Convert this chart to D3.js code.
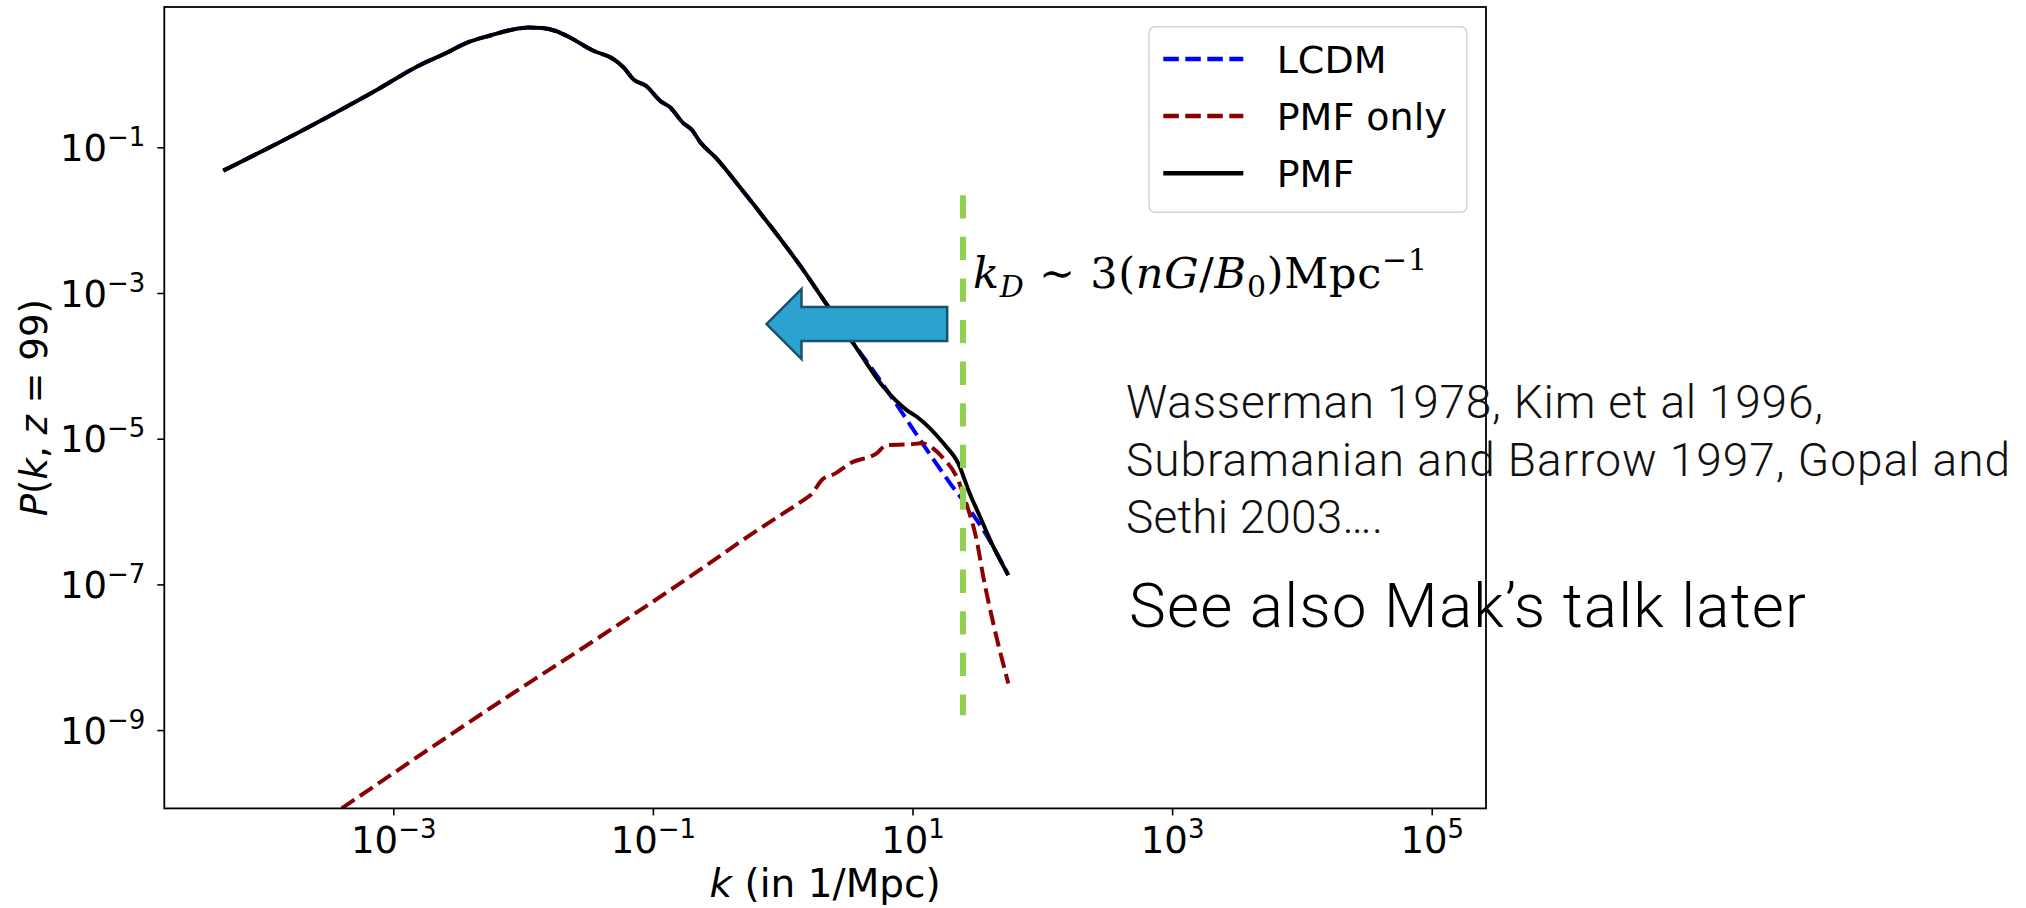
<!DOCTYPE html>
<html>
<head>
<meta charset="utf-8">
<script src="https://cdn.jsdelivr.net/npm/d3@7"></script>
<style>
  html, body { margin: 0; padding: 0; background: #ffffff; }
  svg { display: block; }
</style>
</head>
<body>
<svg id="chart" width="2026" height="908"></svg>
<script>
// Matter power spectrum P(k, z = 99) against wavenumber k (1/Mpc)

// PMF: total spectrum including the primordial magnetic field contribution
const kPMF = [4.90e-5, 1.91e-4, 7.45e-4, 1.61e-3, 2.56e-3, 3.67e-3, 5.66e-3, 8.36e-3,
  1.11e-2, 1.40e-2, 1.79e-2, 2.18e-2, 3.52e-2, 4.81e-2, 5.86e-2, 7.19e-2, 8.85e-2, 0.115,
  0.135, 0.171, 0.200, 0.231, 0.300, 0.499, 0.830, 1.38, 2.24, 3.50, 5.96, 9.02,
  10.8, 17.3, 22.5, 27.7, 33.1, 41.9, 54.7];
const pPMF = [4.78e-2, 0.164, 0.612, 1.35, 1.97, 2.72, 3.45, 4.14,
  4.40, 4.34, 3.95, 3.37, 2.10, 1.68, 1.28, 0.839, 0.695, 0.427,
  0.357, 0.216, 0.173, 0.118, 7.43e-2, 2.45e-2, 7.73e-3, 2.30e-3, 6.49e-4, 2.04e-4, 5.16e-5, 2.47e-5,
  2.00e-5, 8.63e-6, 4.59e-6, 1.74e-6, 8.49e-7, 3.29e-7, 1.34e-7];

// LCDM: standard spectrum without magnetic fields
const kLCDM = [4.90e-5, 1.91e-4, 7.45e-4, 1.61e-3, 2.56e-3, 3.67e-3, 5.66e-3, 8.36e-3,
  1.11e-2, 1.40e-2, 1.79e-2, 2.18e-2, 3.52e-2, 4.81e-2, 5.86e-2, 7.19e-2, 8.85e-2, 0.115,
  0.135, 0.171, 0.200, 0.231, 0.300, 0.499, 0.830, 1.38, 2.24, 3.50,
  4.71, 7.33, 12.9, 19.5, 27.7, 39.5, 54.7];
const pLCDM = [4.78e-2, 0.164, 0.612, 1.35, 1.97, 2.72, 3.45, 4.14,
  4.40, 4.34, 3.95, 3.37, 2.10, 1.68, 1.28, 0.839, 0.695, 0.427,
  0.357, 0.216, 0.173, 0.118, 7.43e-2, 2.45e-2, 7.73e-3, 2.30e-3, 6.49e-4, 2.04e-4,
  9.93e-5, 3.18e-5, 7.02e-6, 2.44e-6, 1.05e-6, 3.94e-7, 1.34e-7];

// PMF only: magnetically induced part alone
const kPMFonly = [4.00e-4, 6.64e-3, 3.91e-2, 0.231, 0.560, 1.01, 1.38, 1.69, 2.00, 2.55,
  3.30, 5.30, 6.32, 9.57, 11.7, 17.3, 21.9, 26.2, 31.2, 35.1, 41.9, 54.7];
const pPMFonly = [8.41e-11, 2.45e-9, 1.91e-8, 1.59e-7, 4.75e-7, 9.44e-7, 1.36e-6, 1.78e-6, 2.71e-6, 3.34e-6,
  4.59e-6, 6.30e-6, 8.19e-6, 8.37e-6, 8.63e-6, 5.37e-6, 2.98e-6, 1.23e-6, 4.06e-7, 1.27e-7, 2.92e-8, 4.37e-9];

const seriesNames = ["LCDM", "PMF only", "PMF"];
const xTickExponents = [-3, -1, 1, 3, 5];
const yTickExponents = [-1, -3, -5, -7, -9];

// damping scale marker and the arrow pointing to larger scales
const kDamping = 24.5;
const dampingSpanP = [2.2e-2, 1.6e-9];
const arrowK = [0.75, 18.5];   // tip, tail
const arrowP = 3.75e-4;

const noteLines = ["Wasserman 1978, Kim et al 1996,",
                   "Subramanian and Barrow 1997, Gopal and",
                   "Sethi 2003…."];
const noteWidths = [697, 884, 257];
const talkNote = "See also Mak\u2019s talk later";

// ---------------------------------------------------------------
const svg = d3.select("#chart");
const W = 2026, H = 908;
svg.append("rect").attr("width", W).attr("height", H).attr("fill", "#ffffff");

const plot = { left: 164.3, right: 1486, top: 7, bottom: 808.4 };

const x = d3.scaleLog()
  .domain([Math.pow(10, -4.764), Math.pow(10, 5.418)])
  .range([plot.left, plot.right]);
const y = d3.scaleLog()
  .domain([Math.pow(10, -10.075), Math.pow(10, 0.926)])
  .range([plot.bottom, plot.top]);

const tickFont = "'DejaVu Sans', sans-serif";

svg.append("defs").append("clipPath").attr("id", "plotClip")
  .append("rect")
  .attr("x", plot.left).attr("y", plot.top)
  .attr("width", plot.right - plot.left).attr("height", plot.bottom - plot.top);

// curves
const line = d3.line().x(d => x(d[0])).y(d => y(d[1])).curve(d3.curveMonotoneX);
const curves = svg.append("g").attr("clip-path", "url(#plotClip)");
const series = [
  { k: kLCDM, p: pLCDM, color: "#0000ff", dash: "15.5,6.5" },
  { k: kPMFonly, p: pPMFonly, color: "#8b0000", dash: "15.5,6.5" },
  { k: kPMF, p: pPMF, color: "#000000", dash: null }
];
series.forEach(s => {
  curves.append("path")
    .datum(s.k.map((k, i) => [k, s.p[i]]))
    .attr("d", line)
    .attr("fill", "none")
    .attr("stroke", s.color)
    .attr("stroke-width", 4)
    .attr("stroke-linejoin", "round")
    .attr("stroke-dasharray", s.dash);
});

// power-of-ten tick labels
function powerLabel(sel, exp) {
  sel.text(null);
  sel.append("tspan").text("10");
  sel.append("tspan")
    .attr("dy", -15)
    .attr("font-size", 26)
    .text(exp < 0 ? "\u2212" + (-exp) : String(exp));
}

const xAxis = d3.axisBottom(x)
  .tickValues(xTickExponents.map(e => Math.pow(10, e)))
  .tickSize(7).tickSizeOuter(0);
const gx = svg.append("g").attr("transform", `translate(0,${plot.bottom})`).call(xAxis);
gx.select(".domain").remove();
gx.selectAll(".tick line").attr("stroke", "#000").attr("stroke-width", 1.6);
gx.selectAll(".tick text")
  .attr("font-family", tickFont).attr("font-size", 37).attr("fill", "#000")
  .attr("y", 45).attr("dy", null)
  .each(function(d, i) { powerLabel(d3.select(this), xTickExponents[i]); });

const yAxis = d3.axisLeft(y)
  .tickValues(yTickExponents.map(e => Math.pow(10, e)))
  .tickSize(7).tickSizeOuter(0);
const gy = svg.append("g").attr("transform", `translate(${plot.left},0)`).call(yAxis);
gy.select(".domain").remove();
gy.selectAll(".tick line").attr("stroke", "#000").attr("stroke-width", 1.6);
gy.selectAll(".tick text")
  .attr("font-family", tickFont).attr("font-size", 37).attr("fill", "#000")
  .attr("x", -19).attr("y", 13).attr("dy", null)
  .each(function(d, i) { powerLabel(d3.select(this), yTickExponents[i]); });

// frame
svg.append("rect")
  .attr("x", plot.left).attr("y", plot.top)
  .attr("width", plot.right - plot.left).attr("height", plot.bottom - plot.top)
  .attr("fill", "none").attr("stroke", "#000").attr("stroke-width", 1.8);

// axis titles
const xTitle = svg.append("text")
  .attr("x", (plot.left + plot.right) / 2).attr("y", 897)
  .attr("text-anchor", "middle")
  .attr("font-family", tickFont).attr("font-size", 39).attr("fill", "#000");
xTitle.append("tspan").attr("font-style", "italic").text("k");
xTitle.append("tspan").text(" (in 1/Mpc)");

const yTitle = svg.append("text")
  .attr("transform", `translate(47,${(plot.top + plot.bottom) / 2}) rotate(-90)`)
  .attr("text-anchor", "middle")
  .attr("font-family", tickFont).attr("font-size", 37).attr("fill", "#000");
yTitle.append("tspan").attr("font-style", "italic").text("P");
yTitle.append("tspan").text("(");
yTitle.append("tspan").attr("font-style", "italic").text("k");
yTitle.append("tspan").text(", ");
yTitle.append("tspan").attr("font-style", "italic").text("z");
yTitle.append("tspan").text(" = 99)");

// legend
const legend = svg.append("g");
legend.append("rect")
  .attr("x", 1149).attr("y", 26.7).attr("width", 317.7).attr("height", 185.6)
  .attr("rx", 6).attr("fill", "#ffffff").attr("fill-opacity", 0.8)
  .attr("stroke", "#d4d4d4").attr("stroke-width", 1.5);
const legendRows = [59, 116, 173.3];
series.forEach((s, i) => {
  legend.append("line")
    .attr("x1", 1163.3).attr("x2", 1243.3)
    .attr("y1", legendRows[i]).attr("y2", legendRows[i])
    .attr("stroke", s.color).attr("stroke-width", 4.5)
    .attr("stroke-dasharray", s.dash);
  legend.append("text")
    .attr("x", 1276.7).attr("y", legendRows[i] + 13.5)
    .attr("font-family", tickFont).attr("font-size", 38).attr("fill", "#000")
    .text(seriesNames[i]);
});

// damping scale marker
svg.append("line")
  .attr("x1", x(kDamping)).attr("x2", x(kDamping))
  .attr("y1", y(dampingSpanP[0])).attr("y2", y(dampingSpanP[1]))
  .attr("stroke", "#92d050").attr("stroke-width", 6)
  .attr("stroke-dasharray", "23.3,18.3");

// block arrow towards large scales
const tipX = x(arrowK[0]), tailX = x(arrowK[1]), midY = y(arrowP);
const headLen = 35, headHalf = 35, shaftHalf = 17;
svg.append("path")
  .attr("d", [
    [tipX, midY], [tipX + headLen, midY - headHalf], [tipX + headLen, midY - shaftHalf],
    [tailX, midY - shaftHalf], [tailX, midY + shaftHalf], [tipX + headLen, midY + shaftHalf],
    [tipX + headLen, midY + headHalf]
  ].map((p, i) => (i ? "L" : "M") + p[0] + "," + p[1]).join("") + "Z")
  .attr("fill", "#2ba2d0").attr("stroke", "#1b5268").attr("stroke-width", 2.5)
  .attr("stroke-linejoin", "miter");

// damping wavenumber formula
const mathFont = "'DejaVu Serif', 'Liberation Serif', serif";
const formula = svg.append("text")
  .attr("x", x(kDamping) + 10).attr("y", 288)
  .attr("font-family", mathFont).attr("font-size", 43).attr("fill", "#000")
  .attr("textLength", 454);
formula.append("tspan").attr("font-style", "italic").text("k");
formula.append("tspan").attr("font-style", "italic").attr("font-size", 30).attr("dy", 9).text("D");
formula.append("tspan").attr("dy", -9).text(" \u223C 3(");
formula.append("tspan").attr("font-style", "italic").text("nG");
formula.append("tspan").text("/");
formula.append("tspan").attr("font-style", "italic").text("B");
formula.append("tspan").attr("font-size", 30).attr("dy", 9).text("0");
formula.append("tspan").attr("dy", -9).text(")Mpc");
formula.append("tspan").attr("font-size", 30).attr("dy", -18).text("\u22121");

// reference notes
const noteFont = "Roboto, 'Open Sans', sans-serif";
noteLines.forEach((t, i) => {
  svg.append("text")
    .attr("x", 1126).attr("y", 418.3 + i * 57.3)
    .attr("font-family", noteFont).attr("font-weight", 300)
    .attr("font-size", 46).attr("fill", "#111")
    .attr("textLength", noteWidths[i])
    .text(t);
});
svg.append("text")
  .attr("x", 1129).attr("y", 627.3)
  .attr("font-family", noteFont).attr("font-weight", 300)
  .attr("font-size", 62).attr("fill", "#000")
  .attr("textLength", 677)
  .text(talkNote);
</script>
</body>
</html>
